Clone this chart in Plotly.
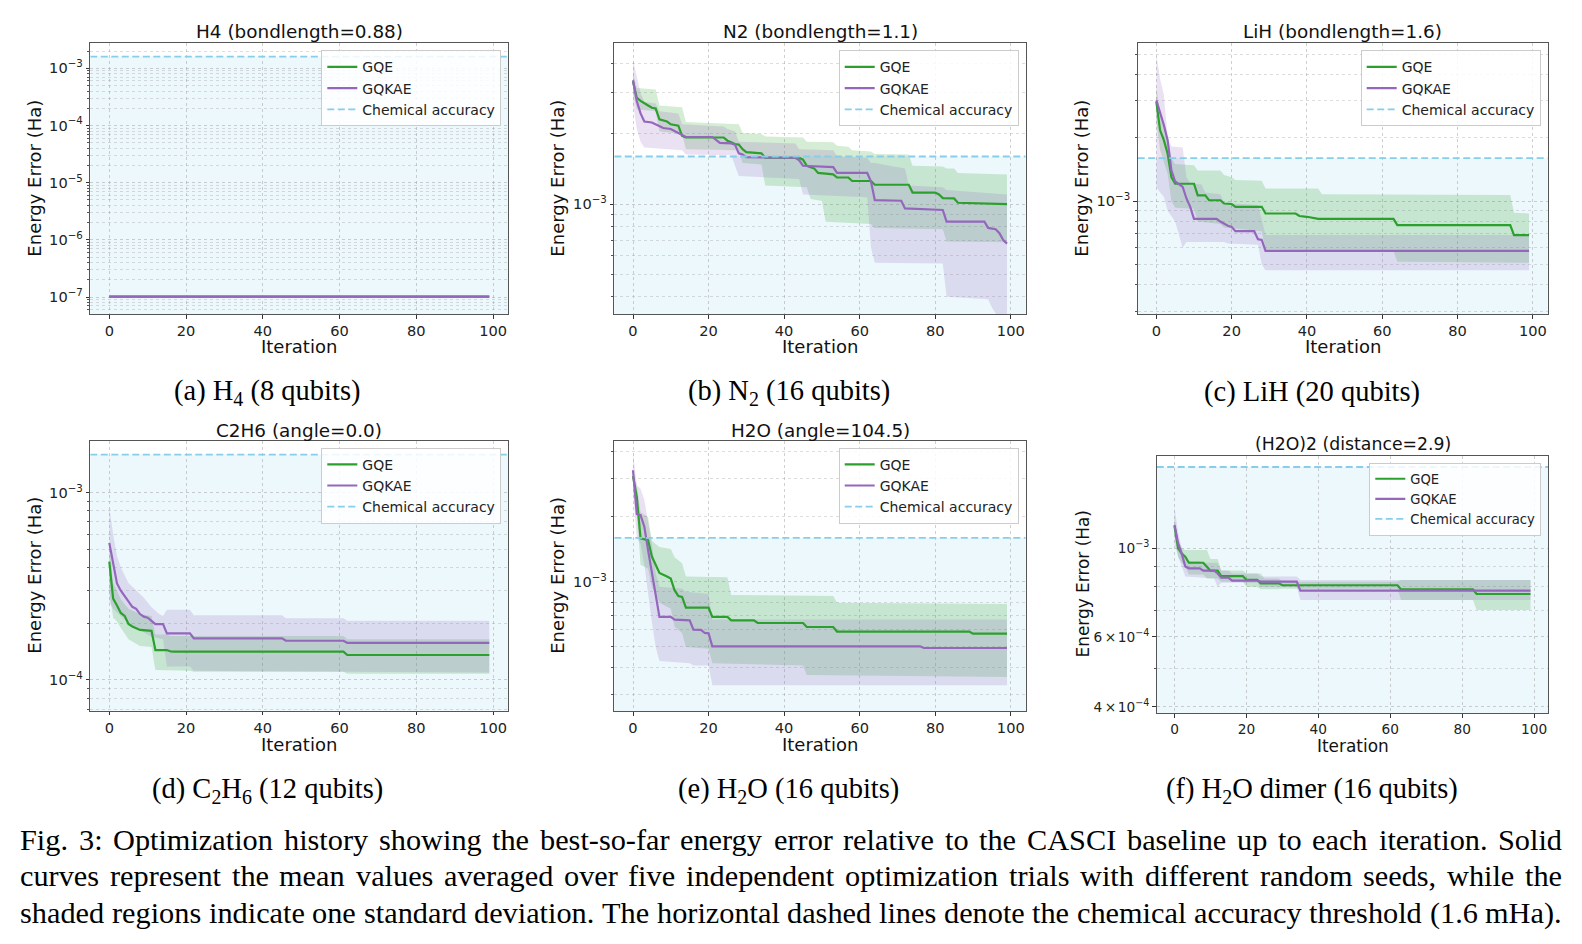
import numpy as np
import plotly.graph_objects as go

W, H = 1582, 944

# ---------------- data (energy error in mHa, as (iteration, value) breakpoints) ----------------
ITER_TICKS = [0, 20, 40, 60, 80, 100]
CHEM_ACC_MHA = 1.6
METHODS = ["GQE", "GQKAE"]

H4_GQE_MEAN = [(0, 1.02e-4), (99, 1.02e-4)]
H4_GQE_UP = [(0, 1.02e-4), (99, 1.02e-4)]
H4_GQE_LO = [(0, 1.02e-4), (99, 1.02e-4)]
H4_GQKAE_MEAN = [(0, 1.02e-4), (99, 1.02e-4)]
H4_GQKAE_UP = [(0, 1.02e-4), (99, 1.02e-4)]
H4_GQKAE_LO = [(0, 1.02e-4), (99, 1.02e-4)]

N2_GQE_MEAN = [(0,3.36),(1,2.86),(2,2.77),(3,2.72),(4,2.65),(5,2.59),(6,2.57),(7,2.31),(8,2.29),(9,2.26),(10,2.20),(12,2.17),(13,1.96),(14,1.93),(24,1.93),(25,1.87),(26,1.84),(27,1.81),(28,1.80),(29,1.72),(30,1.67),(34,1.65),(35,1.58),(44,1.58),(45,1.55),(46,1.46),(47,1.44),(48,1.42),(49,1.36),(53,1.34),(54,1.30),(57,1.30),(58,1.256),(63,1.256),(64,1.21),(73,1.21),(74,1.12),(80,1.12),(81,1.10),(82,1.06),(85,1.057),(86,1.013),(99,1.0)]
N2_GQE_UP = [(0,3.65),(1,3.15),(6,3.10),(7,2.65),(13,2.6),(14,2.25),(28,2.2),(29,2.02),(34,2.0),(35,1.95),(45,1.93),(46,1.85),(53,1.84),(54,1.78),(57,1.76),(58,1.70),(63,1.68),(64,1.64),(73,1.63),(74,1.46),(82,1.45),(83,1.42),(85,1.42),(86,1.36),(99,1.34)]
N2_GQE_LO = [(0,3.0),(1,2.55),(6,2.5),(7,2.05),(13,2.0),(14,1.72),(28,1.7),(29,1.50),(34,1.48),(35,1.2),(46,1.18),(47,1.05),(50,1.03),(51,0.84),(63,0.82),(64,0.79),(82,0.78),(83,0.69),(99,0.686)]
N2_GQKAE_MEAN = [(0,3.40),(1,2.77),(2,2.45),(3,2.26),(5,2.24),(6,2.20),(7,2.17),(8,2.12),(10,2.10),(11,2.06),(12,2.03),(13,1.98),(14,1.94),(21,1.94),(22,1.88),(23,1.83),(26,1.82),(27,1.80),(28,1.65),(29,1.63),(30,1.59),(43,1.58),(44,1.54),(45,1.46),(53,1.44),(54,1.36),(62,1.36),(63,1.25),(64,1.04),(71,1.033),(72,0.958),(82,0.943),(83,0.841),(93,0.841),(94,0.79),(96,0.78),(97,0.75),(98,0.70),(99,0.676)]
N2_GQKAE_UP = [(0,4.16),(1,3.5),(2,3.0),(3,2.75),(6,2.7),(7,2.5),(12,2.45),(13,2.2),(24,2.15),(25,2.1),(27,2.05),(28,1.85),(43,1.82),(44,1.72),(53,1.70),(54,1.60),(62,1.58),(63,1.50),(64,1.50),(72,1.42),(73,1.20),(82,1.18),(83,1.15),(99,1.1)]
N2_GQKAE_LO = [(0,2.7),(1,2.1),(2,1.85),(3,1.75),(13,1.7),(14,1.63),(26,1.62),(27,1.45),(28,1.32),(44,1.28),(45,1.10),(62,1.07),(63,0.65),(64,0.56),(82,0.555),(83,0.40),(94,0.39),(95,0.36),(97,0.32),(99,0.28)]

LIH_GQE_MEAN = [(0,2.96),(1,2.17),(2,1.95),(3,1.68),(4,1.30),(5,1.21),(10,1.21),(11,1.065),(13,1.065),(14,1.01),(17,1.01),(18,0.975),(20,0.97),(21,0.94),(28,0.94),(29,0.874),(37,0.874),(38,0.85),(40,0.843),(42,0.83),(43,0.824),(63,0.824),(64,0.77),(94,0.77),(95,0.69),(99,0.69)]
LIH_GQE_UP = [(0,3.5),(1,2.6),(2,2.3),(3,2.0),(4,1.6),(5,1.50),(10,1.48),(11,1.40),(17,1.40),(18,1.33),(20,1.30),(21,1.26),(28,1.25),(29,1.15),(43,1.15),(44,1.08),(94,1.07),(95,0.88),(99,0.874)]
LIH_GQE_LO = [(0,2.4),(1,1.75),(2,1.55),(3,1.35),(4,1.0),(5,0.93),(10,0.92),(11,0.80),(17,0.78),(18,0.75),(28,0.72),(29,0.59),(63,0.58),(64,0.515),(99,0.51)]
LIH_GQKAE_MEAN = [(0,3.01),(1,2.65),(2,2.3),(3,1.95),(4,1.40),(5,1.24),(6,1.21),(7,1.17),(8,1.03),(9,0.94),(10,0.824),(16,0.824),(17,0.80),(18,0.78),(19,0.764),(20,0.755),(21,0.72),(26,0.72),(27,0.66),(28,0.655),(29,0.581),(99,0.581)]
LIH_GQKAE_UP = [(0,5.0),(1,3.8),(2,3.2),(3,2.0),(4,1.82),(7,1.80),(8,1.30),(9,1.22),(12,1.20),(13,1.10),(17,1.08),(18,0.98),(27,0.96),(28,0.80),(29,0.69),(99,0.69)]
LIH_GQKAE_LO = [(0,1.17),(1,1.10),(2,1.05),(3,0.90),(5,0.80),(6,0.70),(7,0.60),(8,0.64),(18,0.64),(19,0.63),(27,0.62),(28,0.50),(29,0.47),(99,0.47)]

C2H6_GQE_MEAN = [(0,0.428),(1,0.272),(2,0.25),(3,0.228),(4,0.22),(5,0.199),(6,0.193),(7,0.189),(8,0.185),(11,0.183),(12,0.1445),(15,0.1445),(16,0.142),(17,0.1417),(61,0.1417),(62,0.136),(99,0.136)]
C2H6_GQE_UP = [(0,0.55),(1,0.33),(2,0.30),(3,0.27),(5,0.24),(8,0.225),(11,0.22),(12,0.175),(15,0.175),(16,0.172),(61,0.172),(62,0.165),(99,0.165)]
C2H6_GQE_LO = [(0,0.30),(1,0.215),(2,0.205),(3,0.19),(5,0.165),(8,0.152),(11,0.150),(12,0.113),(21,0.112),(22,0.1105),(61,0.1105),(62,0.108),(99,0.108)]
C2H6_GQKAE_MEAN = [(0,0.54),(1,0.42),(2,0.328),(3,0.30),(4,0.28),(5,0.262),(6,0.246),(7,0.240),(8,0.225),(9,0.218),(10,0.215),(11,0.207),(12,0.199),(14,0.199),(15,0.1775),(21,0.1775),(22,0.167),(45,0.167),(46,0.162),(61,0.162),(62,0.158),(99,0.158)]
C2H6_GQKAE_UP = [(0,0.84),(1,0.60),(2,0.46),(3,0.40),(5,0.33),(7,0.30),(9,0.275),(11,0.245),(13,0.225),(14,0.22),(15,0.237),(21,0.237),(22,0.222),(45,0.222),(46,0.2135),(61,0.2135),(62,0.207),(99,0.207)]
C2H6_GQKAE_LO = [(0,0.26),(1,0.24),(3,0.22),(5,0.20),(7,0.19),(9,0.18),(11,0.17),(14,0.165),(15,0.118),(21,0.118),(22,0.112),(99,0.1095)]

H2O_GQE_MEAN = [(0,3.09),(1,2.48),(2,1.59),(4,1.56),(5,1.31),(6,1.20),(7,1.10),(9,1.06),(10,1.036),(11,0.915),(12,0.86),(13,0.852),(14,0.76),(20,0.76),(21,0.689),(25,0.689),(26,0.664),(32,0.664),(33,0.645),(45,0.645),(46,0.618),(53,0.618),(54,0.589),(89,0.589),(90,0.576),(99,0.576)]
H2O_GQE_UP = [(0,3.3),(1,2.8),(2,2.1),(4,2.0),(5,1.55),(7,1.45),(10,1.42),(11,1.30),(13,1.22),(14,1.06),(25,1.05),(26,0.87),(53,0.86),(54,0.80),(99,0.79)]
H2O_GQE_LO = [(0,2.9),(1,2.1),(2,1.2),(4,1.15),(5,0.95),(7,0.80),(10,0.75),(11,0.62),(13,0.58),(14,0.50),(20,0.49),(21,0.42),(45,0.41),(46,0.37),(99,0.363)]
H2O_GQKAE_MEAN = [(0,3.29),(1,2.06),(2,2.04),(3,1.80),(4,1.40),(5,1.10),(6,0.85),(7,0.689),(10,0.689),(11,0.669),(15,0.664),(16,0.601),(18,0.60),(19,0.58),(20,0.578),(21,0.503),(76,0.503),(77,0.494),(99,0.494)]
H2O_GQKAE_UP = [(0,4.0),(1,2.8),(2,2.7),(3,2.4),(4,1.9),(5,1.5),(6,1.1),(7,0.95),(13,0.93),(14,0.90),(20,0.88),(21,0.67),(99,0.669)]
H2O_GQKAE_LO = [(0,2.6),(1,1.6),(2,1.5),(3,1.2),(4,0.9),(5,0.65),(6,0.50),(7,0.43),(15,0.42),(16,0.41),(20,0.41),(21,0.332),(99,0.332)]

DIMER_GQE_MEAN = [(0,1.138),(1,1.0),(2,0.97),(3,0.953),(4,0.92),(8,0.92),(9,0.899),(10,0.879),(12,0.879),(13,0.852),(19,0.852),(20,0.833),(23,0.833),(24,0.817),(29,0.817),(30,0.808),(62,0.808),(63,0.789),(83,0.789),(84,0.768),(99,0.768)]
DIMER_GQE_UP = [(0,1.20),(1,1.05),(2,1.0),(3,0.99),(9,0.99),(10,0.94),(12,0.94),(13,0.88),(19,0.88),(20,0.865),(24,0.865),(25,0.84),(29,0.84),(30,0.825),(62,0.825),(63,0.833),(99,0.833)]
DIMER_GQE_LO = [(0,1.08),(1,0.95),(2,0.92),(3,0.90),(4,0.86),(8,0.86),(9,0.84),(12,0.84),(13,0.825),(19,0.825),(20,0.80),(23,0.80),(24,0.79),(29,0.79),(30,0.792),(62,0.792),(63,0.742),(83,0.742),(84,0.70),(99,0.70)]
DIMER_GQKAE_MEAN = [(0,1.144),(1,1.03),(2,0.97),(3,0.90),(4,0.891),(7,0.891),(8,0.879),(11,0.879),(12,0.865),(13,0.844),(15,0.844),(16,0.83),(23,0.83),(24,0.825),(34,0.825),(35,0.783),(99,0.783)]
DIMER_GQKAE_UP = [(0,1.27),(1,1.10),(2,1.0),(3,0.95),(4,0.93),(7,0.93),(8,0.92),(12,0.92),(13,0.88),(15,0.88),(16,0.865),(23,0.865),(24,0.85),(34,0.85),(35,0.833),(99,0.833)]
DIMER_GQKAE_LO = [(0,1.02),(1,0.96),(2,0.90),(3,0.85),(11,0.84),(12,0.80),(13,0.82),(23,0.82),(24,0.80),(34,0.80),(35,0.742),(99,0.742)]

TITLES = ["H4 (bondlength=0.88)", "N2 (bondlength=1.1)", "LiH (bondlength=1.6)",
          "C2H6 (angle=0.0)", "H2O (angle=104.5)", "(H2O)2 (distance=2.9)"]
SUBCAPTIONS = ["(a) H<sub>4</sub> (8 qubits)", "(b) N<sub>2</sub> (16 qubits)", "(c) LiH (20 qubits)",
               "(d) C<sub>2</sub>H<sub>6</sub> (12 qubits)", "(e) H<sub>2</sub>O (16 qubits)",
               "(f) H<sub>2</sub>O dimer (16 qubits)"]
CAPTION_LINES = [
    "Fig. 3: Optimization history showing the best-so-far energy error relative to the CASCI baseline up to each iteration. Solid",
    "curves represent the mean values averaged over five independent optimization trials with different random seeds, while the",
    "shaded regions indicate one standard deviation. The horizontal dashed lines denote the chemical accuracy threshold (1.6 mHa).",
]

DATA = [
    {"GQE": (H4_GQE_MEAN, H4_GQE_UP, H4_GQE_LO), "GQKAE": (H4_GQKAE_MEAN, H4_GQKAE_UP, H4_GQKAE_LO)},
    {"GQE": (N2_GQE_MEAN, N2_GQE_UP, N2_GQE_LO), "GQKAE": (N2_GQKAE_MEAN, N2_GQKAE_UP, N2_GQKAE_LO)},
    {"GQE": (LIH_GQE_MEAN, LIH_GQE_UP, LIH_GQE_LO), "GQKAE": (LIH_GQKAE_MEAN, LIH_GQKAE_UP, LIH_GQKAE_LO)},
    {"GQE": (C2H6_GQE_MEAN, C2H6_GQE_UP, C2H6_GQE_LO), "GQKAE": (C2H6_GQKAE_MEAN, C2H6_GQKAE_UP, C2H6_GQKAE_LO)},
    {"GQE": (H2O_GQE_MEAN, H2O_GQE_UP, H2O_GQE_LO), "GQKAE": (H2O_GQKAE_MEAN, H2O_GQKAE_UP, H2O_GQKAE_LO)},
    {"GQE": (DIMER_GQE_MEAN, DIMER_GQE_UP, DIMER_GQE_LO), "GQKAE": (DIMER_GQKAE_MEAN, DIMER_GQKAE_UP, DIMER_GQKAE_LO)},
]

# ---------------- layout (pixels) ----------------
BOXES = [(90.3, 43.3, 508.3, 314.0), (614.3, 43.3, 1025.7, 314.0), (1137.7, 43.3, 1547.7, 314.0),
         (90.3, 440.7, 508.3, 710.7), (614.3, 440.7, 1025.7, 711.0), (1156.7, 455.7, 1548.3, 713.3)]
YRANGES = [(-7.297, -2.563), (-3.472, -2.31), (-3.536, -2.25), (-4.164, -2.722), (-3.598, -2.346), (-3.414, -2.7675)]
YMAJOR = [[1e-7, 1e-6, 1e-5, 1e-4, 1e-3], [1e-3], [1e-3], [1e-4, 1e-3], [1e-3], [4e-4, 6e-4, 1e-3]]
TITLE_Y = [31.7, 31.7, 31.7, 430, 430, 444.3]
XLABEL_Y = [346.5, 346.5, 346.5, 744.8, 744.8, 745.5]
YLABEL_X = [35, 558, 1082, 35, 558, 1082]
CAP_XY = [(267, 392), (788.5, 392), (1311.7, 392), (267.5, 790), (788, 790), (1311.7, 790)]
SCALE = [1, 1, 1, 1, 1, 0.94]
XR = (-4.95, 103.95)

COLORS = {"GQE": "#2ca02c", "GQKAE": "#9467bd"}
FILLS = {"GQE": "rgba(44,160,44,0.2)", "GQKAE": "rgba(148,103,189,0.2)"}
FONT = "DejaVu Sans"
SERIF = "Liberation Serif"
GRID = "rgba(150,150,150,0.45)"
MGRID = "rgba(150,150,150,0.32)"

# Times / Liberation Serif advance widths (per 1000 em) for caption justification
TIMES_W = {" ": 250, ".": 250, ",": 250, ":": 278, "-": 333, "(": 333, ")": 333}
TIMES_W.update({c: 500 for c in "0123456789"})
TIMES_W.update(dict(zip("abcdefghijklmnopqrstuvwxyz",
                        [444, 500, 444, 500, 444, 333, 500, 500, 278, 278, 500, 278, 778,
                         500, 500, 500, 500, 333, 389, 278, 500, 500, 722, 500, 500, 444])))
TIMES_W.update(dict(zip("ABCDEFGHIJKLMNOPQRSTUVWXYZ",
                        [722, 667, 667, 722, 611, 556, 722, 722, 333, 389, 722, 611, 889,
                         722, 722, 556, 722, 667, 556, 611, 722, 722, 944, 722, 722, 611])))
CAP_SIZE = 30.3
CAP_LEFT, CAP_RIGHT = 20.0, 1562.0
CAP_Y = [840, 876, 913]


def unzip(pairs):
    return [p[0] for p in pairs], [p[1] * 1e-3 for p in pairs]


def fmt_tick(v):
    k = int(np.floor(np.log10(v) + 1e-9))
    m = round(v / 10.0 ** k)
    base = "10<sup>\u2212%d</sup>" % (-k)
    return base if m == 1 else "%d\u2009\u00d7\u200a%s" % (m, base)


def minor_vals(lo, hi, majors):
    out = []
    for k in range(int(np.floor(lo)) - 1, int(np.ceil(hi)) + 1):
        for m in range(2, 10):
            v = m * 10.0 ** k
            if lo <= np.log10(v) <= hi and not any(abs(v - mj) / mj < 1e-6 for mj in majors):
                out.append(v)
    return out


fig = go.Figure()
layout = dict(width=W, height=H, margin=dict(l=0, r=0, t=0, b=0), autosize=False,
              paper_bgcolor="white", plot_bgcolor="white", showlegend=True)
annotations = []
shapes = []

for i in range(6):
    n = "" if i == 0 else str(i + 1)
    xa, ya = "x" + n, "y" + n
    lg = "legend" + n
    x0, y0, x1, y1 = BOXES[i]
    s = SCALE[i]
    xdom = [x0 / W, x1 / W]
    ydom = [1 - y1 / H, 1 - y0 / H]
    lo, hi = YRANGES[i]

    layout["xaxis" + n] = dict(
        domain=xdom, anchor=ya, range=list(XR), tickmode="array", tickvals=ITER_TICKS,
        ticks="outside", ticklen=3.5, tickwidth=1, tickcolor="#333",
        showline=True, mirror=True, linecolor="#555", linewidth=1.2,
        showgrid=True, gridcolor=GRID, griddash="dot", gridwidth=0.8, zeroline=False,
        tickfont=dict(family=FONT, size=14.6 * s, color="#222"),
    )
    layout["yaxis" + n] = dict(
        domain=ydom, anchor=xa, type="log", range=[lo, hi], tickmode="array",
        tickvals=YMAJOR[i], ticktext=[fmt_tick(v) for v in YMAJOR[i]],
        ticks="outside", ticklen=3.5, tickwidth=1, tickcolor="#333",
        showline=True, mirror=True, linecolor="#555", linewidth=1.2,
        showgrid=True, gridcolor=GRID, griddash="dot", gridwidth=0.8, zeroline=False,
        tickfont=dict(family=FONT, size=14.6 * s, color="#222"),
        minor=dict(tickmode="array", tickvals=minor_vals(lo, hi, YMAJOR[i]), ticks="outside",
                   ticklen=2, tickcolor="#555", showgrid=True, gridcolor=MGRID, griddash="dot",
                   gridwidth=0.7),
    )
    layout[lg] = dict(
        x=(x1 - 7) / W, y=1 - (y0 + 7) / H, xanchor="right", yanchor="top",
        bgcolor="rgba(255,255,255,0.85)", bordercolor="#cccccc", borderwidth=1,
        font=dict(family=FONT, size=14.0 * s, color="#222"), tracegroupgap=0,
    )

    # chemical-accuracy region shading
    shapes.append(dict(type="rect", xref=xa + " domain", yref=ya, x0=0, x1=1,
                       y0=1e-12, y1=CHEM_ACC_MHA * 1e-3, fillcolor="rgba(135,206,235,0.15)",
                       line=dict(width=0), layer="below"))

    # std bands
    for m in METHODS:
        mean, up, low = DATA[i][m]
        ux, uy = unzip(up)
        lx, ly = unzip(low)
        fig.add_trace(go.Scatter(x=ux + lx[::-1], y=uy + ly[::-1], mode="lines", fill="toself",
                                 fillcolor=FILLS[m], line=dict(width=0), hoverinfo="skip",
                                 showlegend=False, xaxis=xa, yaxis=ya, legend=lg))
    for m in METHODS:
        mean, up, low = DATA[i][m]
        mx, my = unzip(mean)
        fig.add_trace(go.Scatter(x=mx, y=my, mode="lines", name=m,
                                 line=dict(color=COLORS[m], width=2.2),
                                 xaxis=xa, yaxis=ya, legend=lg))
    fig.add_trace(go.Scatter(x=list(XR), y=[CHEM_ACC_MHA * 1e-3] * 2, mode="lines",
                             name="Chemical accuracy",
                             line=dict(color="#87ceeb", width=1.8, dash="7px,3.5px"),
                             xaxis=xa, yaxis=ya, legend=lg))

    cx = (x0 + x1) / 2
    annotations.append(dict(text=TITLES[i], x=cx / W, y=1 - TITLE_Y[i] / H, xref="paper", yref="paper",
                            xanchor="center", yanchor="middle", showarrow=False,
                            font=dict(family=FONT, size=18.4 * s, color="#111")))
    annotations.append(dict(text="Iteration", x=cx / W, y=1 - XLABEL_Y[i] / H, xref="paper", yref="paper",
                            xanchor="center", yanchor="middle", showarrow=False,
                            font=dict(family=FONT, size=18.0 * s, color="#111")))
    annotations.append(dict(text="Energy Error (Ha)", x=YLABEL_X[i] / W, y=1 - (y0 + y1) / 2 / H,
                            xref="paper", yref="paper", xanchor="center", yanchor="middle",
                            textangle=-90, showarrow=False,
                            font=dict(family=FONT, size=18.0 * s, color="#111")))
    annotations.append(dict(text=SUBCAPTIONS[i], x=CAP_XY[i][0] / W, y=1 - CAP_XY[i][1] / H,
                            xref="paper", yref="paper", xanchor="center", yanchor="middle",
                            showarrow=False, font=dict(family=SERIF, size=28.5, color="#000")))

# justified figure caption: each word placed so that every line spans CAP_LEFT..CAP_RIGHT
for line, cy in zip(CAPTION_LINES, CAP_Y):
    words = line.split(" ")
    widths = [sum(TIMES_W.get(c, 500) for c in w) * CAP_SIZE / 1000.0 for w in words]
    gap = (CAP_RIGHT - CAP_LEFT - sum(widths)) / (len(words) - 1)
    xpos = CAP_LEFT - 2
    for w, wd in zip(words, widths):
        annotations.append(dict(text=w, x=xpos / W, y=1 - cy / H, xref="paper", yref="paper",
                                xanchor="left", yanchor="middle", showarrow=False,
                                font=dict(family=SERIF, size=CAP_SIZE, color="#000")))
        xpos += wd + gap

layout["annotations"] = annotations
layout["shapes"] = shapes
fig.update_layout(**layout)
fig.write_html("out.html")
